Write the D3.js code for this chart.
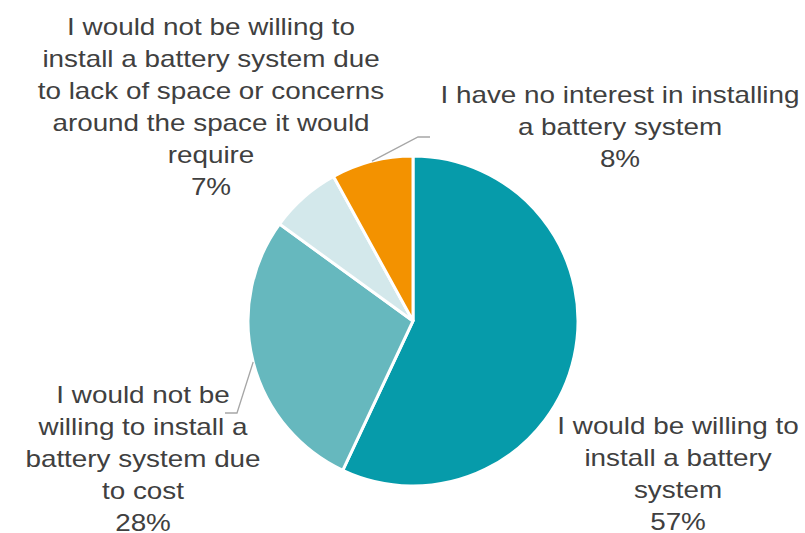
<!DOCTYPE html>
<html>
<head>
<meta charset="utf-8">
<script src="https://cdn.jsdelivr.net/npm/d3@7"></script>
<style>
  html, body { margin: 0; padding: 0; background: #fff; }
  svg { display: block; }
  text { font-family: "Liberation Sans", Arial, sans-serif; fill: #404040; }
</style>
</head>
<body>
<svg id="chart" width="805" height="533"></svg>
<script>
// Survey responses on installing a home battery system
const categories = [
  "I would be willing to install a battery system",
  "I would not be willing to install a battery system due to cost",
  "I would not be willing to install a battery system due to lack of space or concerns around the space it would require",
  "I have no interest in installing a battery system"
];
const values = [57, 28, 7, 8];
const colors = ["#069BAA", "#66B8BE", "#D3E8EB", "#F39200"];

// Label text broken into lines as displayed
const labelLines = [
  ["I would be willing to", "install a battery", "system"],
  ["I would not be", "willing to install a", "battery system due", "to cost"],
  ["I would not be willing to", "install a battery system due", "to lack of space or concerns", "around the space it would", "require"],
  ["I have no interest in installing", "a battery system"]
];
// Label anchor (center x, first baseline y) and optional leader elbow
const labelPos = [
  { x: 678, y: 434, elbow: null },
  { x: 143, y: 403, elbow: [[237, 413], [225, 413]] },
  { x: 211, y: 35, elbow: null },
  { x: 620, y: 103, elbow: [[418, 137], [430, 137]] }
];

const cx = 413, cy = 321, radius = 165, lineH = 32, stretch = 1.16;

const svg = d3.select("#chart");
const g = svg.append("g").attr("transform", `translate(${cx},${cy})`);

const pie = d3.pie().sort(null).value(d => d);
const arcs = pie(values);
const arc = d3.arc().innerRadius(0).outerRadius(radius);

g.selectAll("path.slice")
  .data(arcs)
  .join("path")
  .attr("class", "slice")
  .attr("d", arc)
  .attr("fill", (d, i) => colors[i])
  .attr("stroke", "#fff")
  .attr("stroke-width", 3)
  .attr("stroke-linejoin", "miter");

// Leader lines from slice edge (mid-angle) to label
arcs.forEach((a, i) => {
  const p = labelPos[i];
  if (!p.elbow) return;
  const mid = (a.startAngle + a.endAngle) / 2;
  const start = [cx + Math.sin(mid) * radius, cy - Math.cos(mid) * radius];
  svg.append("path")
    .attr("d", d3.line()([start, ...p.elbow]))
    .attr("fill", "none")
    .attr("stroke", "#A6A6A6")
    .attr("stroke-width", 1.3);
});

// Labels: category text plus percentage (wide-set type)
labelPos.forEach((p, i) => {
  const t = svg.append("text")
    .attr("text-anchor", "middle")
    .attr("font-size", 24)
    .attr("transform", `translate(${p.x},${p.y}) scale(${stretch},1)`);
  const lines = labelLines[i].concat([values[i] + "%"]);
  lines.forEach((ln, k) => {
    t.append("tspan").attr("x", 0).attr("y", k * lineH).text(ln);
  });
});
</script>
</body>
</html>
